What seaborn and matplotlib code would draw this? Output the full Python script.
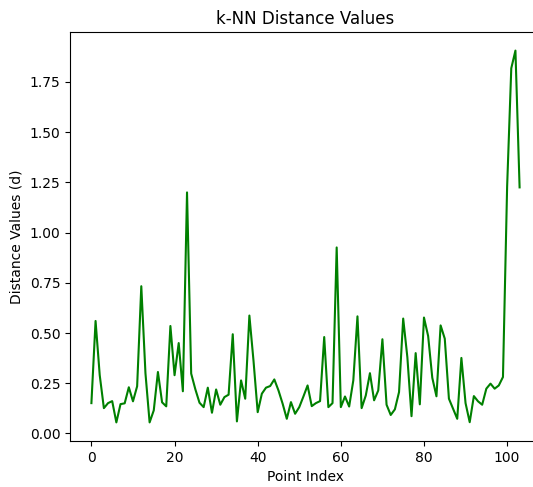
import numpy as np
import matplotlib
matplotlib.use('Agg')
import matplotlib.pyplot as plt
import pandas as pd
import seaborn as sns

# k-NN distance values
distances = [
    0.151, 0.56, 0.29, 0.126, 0.151, 0.161, 0.055, 0.146, 0.15, 0.23,
    0.16, 0.235, 0.733, 0.30, 0.055, 0.115, 0.306, 0.155, 0.135, 0.535,
    0.29, 0.45, 0.21, 1.2, 0.298, 0.22, 0.153, 0.131, 0.228, 0.103,
    0.219, 0.143, 0.181, 0.193, 0.494, 0.06, 0.264, 0.173, 0.587, 0.36,
    0.106, 0.198, 0.228, 0.236, 0.269, 0.214, 0.148, 0.073, 0.156, 0.098,
    0.131, 0.184, 0.239, 0.136, 0.151, 0.161, 0.48, 0.131, 0.151, 0.926,
    0.131, 0.184, 0.134, 0.264, 0.583, 0.126, 0.189, 0.3, 0.165, 0.214,
    0.469, 0.143, 0.092, 0.12, 0.206, 0.572, 0.38, 0.086, 0.4, 0.145,
    0.577, 0.485, 0.277, 0.185, 0.538, 0.472, 0.173, 0.123, 0.073, 0.376,
    0.151, 0.056, 0.186, 0.16, 0.143, 0.223, 0.248, 0.223, 0.239, 0.281,
    1.228, 1.818, 1.906, 1.225,
]
point_index = list(range(len(distances)))

df = pd.DataFrame({'idx': point_index, 'd': distances})

fig = plt.figure(figsize=(5.33, 4.87), dpi=100)
# axes runs a bit past the right edge, like the cropped original
ax = fig.add_axes([70/533, 46/487, 471/533, 409/487])
sns.lineplot(data=df, x='idx', y='d', color='green', ax=ax)
ax.set_title('k-NN Distance Values')
ax.set_xlabel('Point Index')
ax.set_ylabel('Distance Values (d)')

fig.savefig('out.png', dpi=100)
